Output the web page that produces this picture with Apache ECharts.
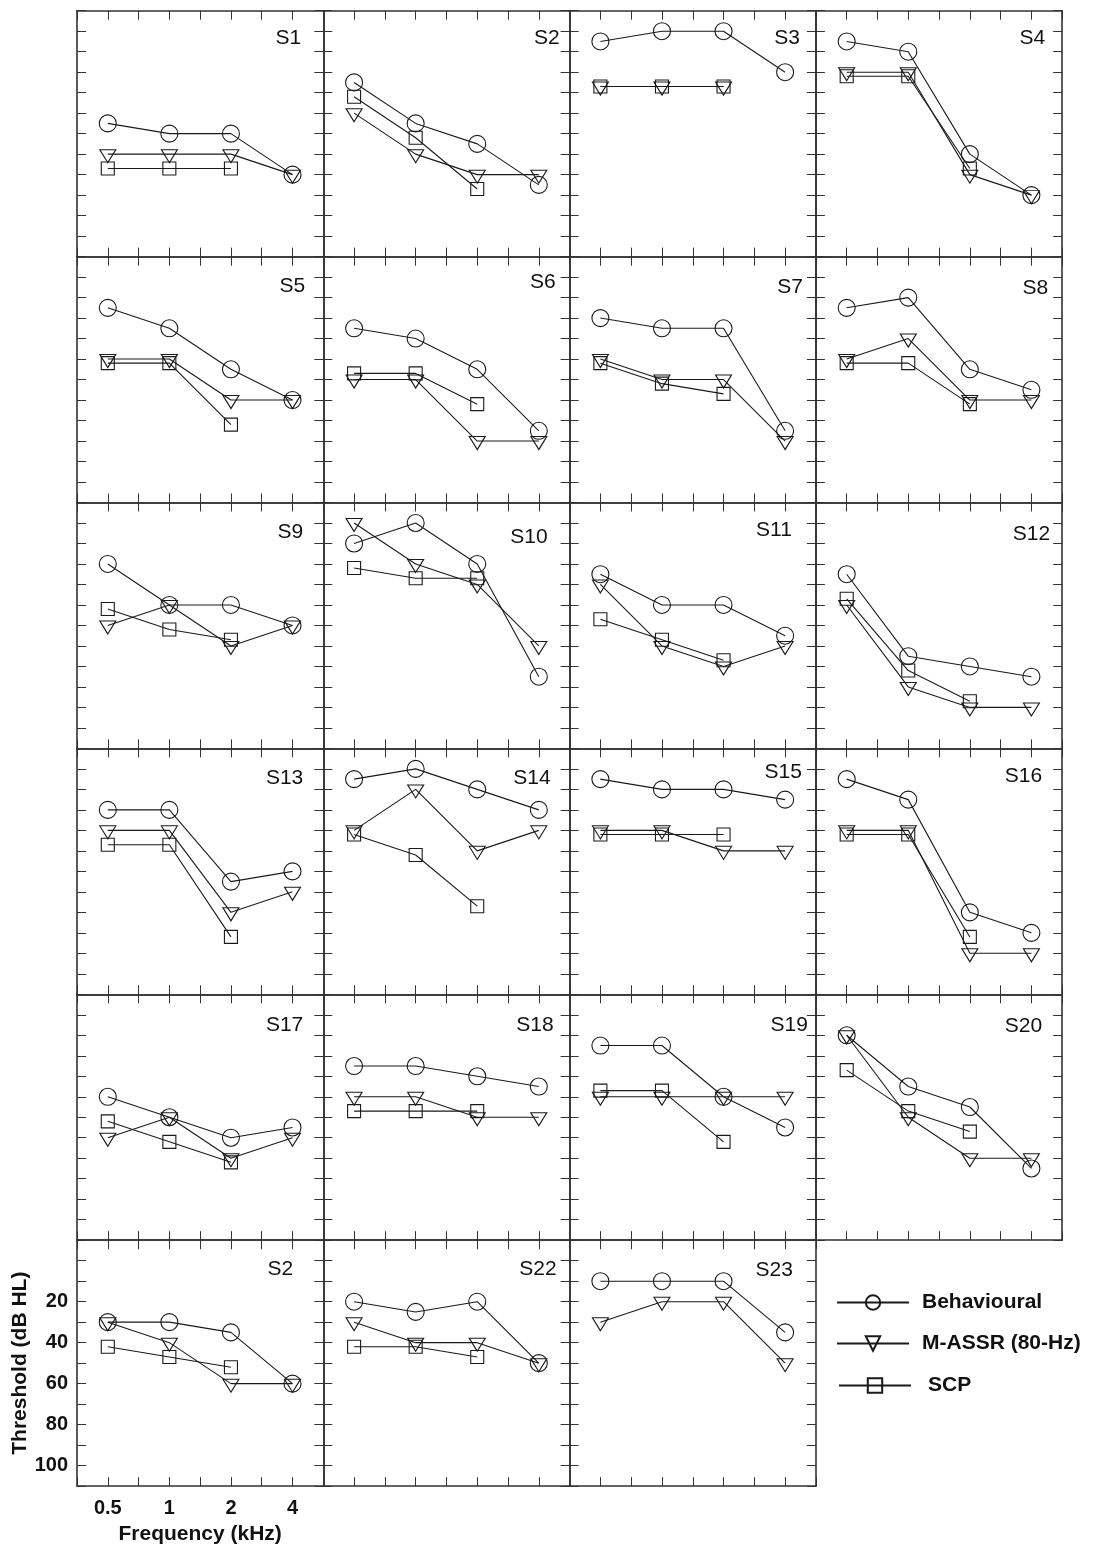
<!DOCTYPE html>
<html>
<head>
<meta charset="utf-8">
<script src="https://cdn.jsdelivr.net/npm/echarts@6/dist/echarts.min.js"></script>
<style>
    html, body { margin: 0; padding: 0; background: #fff; }
    #chart { width: 1098px; height: 1548px; }
</style>
</head>
<body>
<div id="chart"></div>
<script>
const panelNames = ["S1", "S2", "S3", "S4", "S5", "S6", "S7", "S8", "S9", "S10", "S11", "S12",
    "S13", "S14", "S15", "S16", "S17", "S18", "S19", "S20", "S2", "S22", "S23"];
const freqLabels = ["0.5", "1", "2", "4"];
const thresholdLabels = [20, 40, 60, 80, 100];

// dB HL at 0.5, 1, 2, 4 kHz for each panel
const behavioural = [
    [45, 50, 50, 70], [25, 45, 55, 75], [5, 0, 0, 20], [5, 10, 60, 80],
    [15, 25, 45, 60], [25, 30, 45, 75], [20, 25, 25, 75], [15, 10, 45, 55],
    [20, 40, 40, 50], [10, 0, 20, 75], [25, 40, 40, 55], [25, 65, 70, 75],
    [20, 20, 55, 50], [5, 0, 10, 20], [5, 10, 10, 15], [5, 15, 70, 80],
    [40, 50, 60, 55], [25, 25, 30, 35], [15, 15, 40, 55], [10, 35, 45, 75],
    [30, 30, 35, 60], [20, 25, 20, 50], [10, 10, 10, 35]
];
const mAssr = [
    [60, 60, 60, 70], [40, 60, 70, 70], [27, 27, 27, null], [20, 20, 70, 80],
    [40, 40, 60, 60], [50, 50, 80, 80], [40, 50, 50, 80], [40, 30, 60, 60],
    [50, 40, 60, 50], [0, 20, 30, 60], [30, 60, 70, 60], [40, 80, 90, 90],
    [30, 30, 70, 60], [30, 10, 40, 30], [30, 30, 40, 40], [30, 30, 90, 90],
    [60, 50, 70, 60], [40, 40, 50, 50], [40, 40, 40, 40], [10, 50, 70, 70],
    [30, 40, 60, 60], [30, 40, 40, 50], [30, 20, 20, 50]
];
const scp = [
    [67, 67, 67, null], [32, 52, 77, null], [27, 27, 27, null], [22, 22, 67, null],
    [42, 42, 72, null], [47, 47, 62, null], [42, 52, 57, null], [42, 42, 62, null],
    [42, 52, 57, null], [22, 27, 27, null], [47, 57, 67, null], [37, 72, 87, null],
    [37, 37, 82, null], [32, 42, 67, null], [32, 32, 32, null], [32, 32, 82, null],
    [52, 62, 72, null], [47, 47, 47, null], [37, 37, 62, null], [27, 47, 57, null],
    [42, 47, 52, null], [42, 42, 47, null], [null, null, null, null]
];

// panel label placement: [px from right edge, px from top edge to text centre]
const titleNudge = [
    [22, 29], [10, 29], [16, 29], [17, 29], [18, 31], [14, 27], [13, 32], [14, 33],
    [20, 31], [22, 36], [24, 29], [12, 33], [20, 31], [19, 31], [14, 25], [20, 29],
    [20, 32], [16, 32], [8, 32], [20, 33], [30, 31], [13, 31], [23, 32]
];

const chart = echarts.init(document.getElementById("chart"));
const FONT = '"Liberation Sans", Arial, sans-serif';
const INK = "#1a1a1a";
const LEFT = 77, TOP = 10.7, CELL_W = 246.3, CELL_H = 245.9;
const LABELED = 20; // bottom-left panel carries the tick labels

const methods = [
    {name: "Behavioural", values: behavioural, symbol: "circle", size: 17, rotate: 0, offset: [0, 0]},
    {name: "M-ASSR (80-Hz)", values: mAssr, symbol: "triangle", size: [16, 13], rotate: 180, offset: [0, 2]},
    {name: "SCP", values: scp, symbol: "rect", size: 13, rotate: 0, offset: [0, 0]}
];

const grid = [], xAxis = [], yAxis = [], series = [], title = [];

function tickAxis(extra) {
    return Object.assign({
        type: "value",
        axisLine: {show: true, onZero: false, lineStyle: {color: "#333", width: 1.6}},
        axisTick: {show: true, inside: true, length: 9, lineStyle: {color: "#333", width: 1}},
        splitLine: {show: false},
        axisLabel: {show: false}
    }, extra);
}

panelNames.forEach(function (name, i) {
    const col = i % 4, row = Math.floor(i / 4);
    const left = LEFT + col * CELL_W, top = TOP + row * CELL_H;
    grid.push({left: left, top: top, width: CELL_W, height: CELL_H, outerBoundsMode: "none"});

    const labeled = i === LABELED;
    const xBase = {gridIndex: i, min: -0.5, max: 3.5, interval: 0.5};
    const yBase = {gridIndex: i, min: -10, max: 110, interval: 10, inverse: true};

    xAxis.push(tickAxis(Object.assign({}, xBase, {
        position: "bottom",
        axisLabel: {
            show: labeled, margin: 12, fontFamily: FONT, fontSize: 20, fontWeight: "bold", color: "#111",
            formatter: function (v) { return Number.isInteger(v) && freqLabels[v] ? freqLabels[v] : ""; }
        },
        name: labeled ? "Frequency (kHz)" : "",
        nameLocation: "middle",
        nameGap: 38,
        nameTextStyle: {fontFamily: FONT, fontSize: 21, fontWeight: "bold", color: "#111"}
    })));
    xAxis.push(tickAxis(Object.assign({}, xBase, {position: "top"})));

    yAxis.push(tickAxis(Object.assign({}, yBase, {
        position: "left",
        axisLabel: {
            show: labeled, margin: 9, fontFamily: FONT, fontSize: 20, fontWeight: "bold", color: "#111",
            formatter: function (v) { return thresholdLabels.indexOf(v) >= 0 ? String(v) : ""; }
        },
        name: labeled ? "Threshold (dB HL)" : "",
        nameLocation: "middle",
        nameGap: 40,
        nameRotate: 90,
        nameTextStyle: {fontFamily: FONT, fontSize: 21, fontWeight: "bold", color: "#111"}
    })));
    yAxis.push(tickAxis(Object.assign({}, yBase, {position: "right"})));

    methods.forEach(function (m) {
        const pts = [];
        m.values[i].forEach(function (v, k) {
            if (v !== null) pts.push([k, v]);
        });
        if (!pts.length) return;
        series.push({
            name: m.name,
            type: "line",
            xAxisIndex: 2 * i,
            yAxisIndex: 2 * i,
            data: pts,
            symbol: m.symbol,
            symbolSize: m.size,
            symbolRotate: m.rotate,
            symbolOffset: m.offset,
            showAllSymbol: true,
            lineStyle: {color: INK, width: 1.1},
            itemStyle: {color: "rgba(255,255,255,0)", borderColor: INK, borderWidth: 1.1},
            emphasis: {disabled: true},
            silent: true
        });
    });

    const nudge = titleNudge[i];
    title.push({
        text: name,
        right: 1098 - (left + CELL_W - nudge[0]),
        top: top + nudge[1] - 12,
        padding: 0,
        textStyle: {fontFamily: FONT, fontSize: 21, fontWeight: "normal", color: "#111"}
    });
});

function legendRow(name, left, centerY, textPad) {
    return {
        data: [name],
        orient: "vertical",
        left: left,
        top: centerY - 9,
        padding: 0,
        itemWidth: 72,
        itemHeight: 18,
        selectedMode: false,
        textStyle: {fontFamily: FONT, fontSize: 21, fontWeight: "bold", color: "#111", lineHeight: 18, padding: [0, 0, 0, textPad]}
    };
}

chart.setOption({
    animation: false,
    backgroundColor: "#fff",
    title: title,
    legend: [
        legendRow("Behavioural", 836, 1301, 8),
        legendRow("M-ASSR (80-Hz)", 836, 1342, 8),
        legendRow("SCP", 838, 1384, 12)
    ],
    grid: grid,
    xAxis: xAxis,
    yAxis: yAxis,
    series: series
});
</script>
</body>
</html>
